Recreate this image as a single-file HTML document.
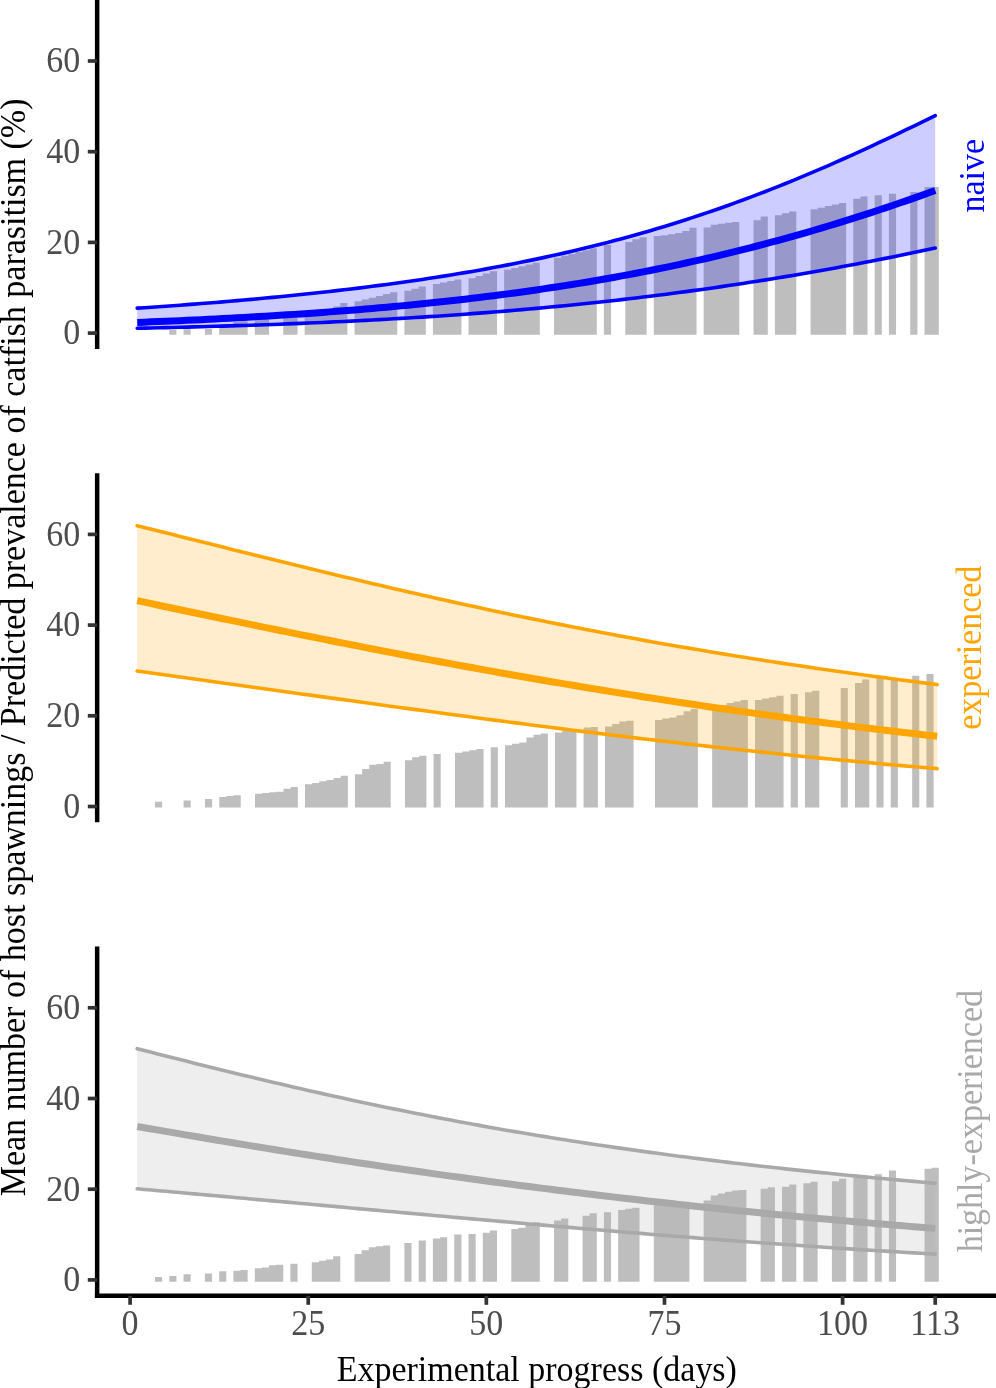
<!DOCTYPE html>
<html lang="en"><head><meta charset="utf-8"><title>Figure</title>
<style>html,body{margin:0;padding:0;background:#fff}svg{display:block;will-change:opacity;opacity:.999}</style></head>
<body>
<svg width="996" height="1388" viewBox="0 0 996 1388" font-family="'Liberation Serif',serif" font-size="34">
<path d="M169.29 334.80L169.29 330.05 L176.41 330.05L176.41 334.80ZM183.54 334.80L183.54 329.37 L190.66 329.37L190.66 334.80ZM204.91 334.80L204.91 328.92 L212.04 328.92L212.04 334.80ZM219.16 334.80L219.16 324.39 L226.29 324.39L226.29 323.93 L233.41 323.93L233.41 321.67 L240.54 321.67L240.54 321.21 L247.66 321.21L247.66 334.80ZM254.79 334.80L254.79 319.85 L261.91 319.85L261.91 319.40 L269.04 319.40L269.04 334.80ZM283.29 334.80L283.29 318.04 L290.41 318.04L290.41 317.13 L297.54 317.13L297.54 334.80ZM304.66 334.80L304.66 314.87 L311.79 314.87L311.79 313.21 L318.91 313.21L318.91 311.54 L326.04 311.54L326.04 309.88 L333.16 309.88L333.16 306.39 L340.29 306.39L340.29 303.08 L347.41 303.08L347.41 334.80ZM354.54 334.80L354.54 301.27 L361.66 301.27L361.66 299.47 L368.79 299.47L368.79 297.68 L375.91 297.68L375.91 295.88 L383.04 295.88L383.04 294.09 L390.16 294.09L390.16 292.29 L397.29 292.29L397.29 334.80ZM404.41 334.80L404.41 290.84 L411.54 290.84L411.54 288.67 L418.66 288.67L418.66 286.49 L425.79 286.49L425.79 334.80ZM432.91 334.80L432.91 284.04 L440.04 284.04L440.04 282.53 L447.16 282.53L447.16 281.02 L454.29 281.02L454.29 279.51 L461.41 279.51L461.41 334.80ZM468.54 334.80L468.54 278.15 L475.66 278.15L475.66 275.88 L482.79 275.88L482.79 273.62 L489.91 273.62L489.91 271.35 L497.04 271.35L497.04 334.80ZM504.16 334.80L504.16 269.72 L511.29 269.72L511.29 267.97 L518.41 267.97L518.41 266.23 L525.54 266.23L525.54 264.48 L532.66 264.48L532.66 262.74 L539.79 262.74L539.79 334.80ZM554.04 334.80L554.04 257.75 L561.16 257.75L561.16 255.85 L568.29 255.85L568.29 253.94 L575.41 253.94L575.41 252.04 L582.54 252.04L582.54 250.14 L589.66 250.14L589.66 248.23 L596.79 248.23L596.79 334.80ZM603.91 334.80L603.91 245.06 L611.04 245.06L611.04 334.80ZM625.29 334.80L625.29 241.89 L632.41 241.89L632.41 239.17 L639.54 239.17L639.54 237.13 L646.66 237.13L646.66 334.80ZM653.79 334.80L653.79 236.08 L660.91 236.08L660.91 235.31 L668.04 235.31L668.04 234.18 L675.16 234.18L675.16 233.05 L682.29 233.05L682.29 231.01 L689.41 231.01L689.41 227.83 L696.54 227.83L696.54 334.80ZM703.66 334.80L703.66 227.38 L710.79 227.38L710.79 224.66 L717.91 224.66L717.91 223.75 L725.04 223.75L725.04 222.85 L732.16 222.85L732.16 221.94 L739.29 221.94L739.29 334.80ZM753.54 334.80L753.54 220.13 L760.66 220.13L760.66 216.50 L767.79 216.50L767.79 334.80ZM774.91 334.80L774.91 215.14 L782.04 215.14L782.04 213.33 L789.16 213.33L789.16 211.52 L796.29 211.52L796.29 334.80ZM810.54 334.80L810.54 209.25 L817.66 209.25L817.66 207.66 L824.79 207.66L824.79 206.08 L831.91 206.08L831.91 204.49 L839.04 204.49L839.04 202.90 L846.16 202.90L846.16 334.80ZM853.29 334.80L853.29 198.82 L860.41 198.82L860.41 196.56 L867.54 196.56L867.54 334.80ZM874.66 334.80L874.66 195.20 L881.79 195.20L881.79 334.80ZM888.91 334.80L888.91 193.84 L896.04 193.84L896.04 334.80ZM910.29 334.80L910.29 192.02 L917.41 192.02L917.41 334.80ZM924.54 334.80L924.54 187.04 L931.66 187.04L931.66 187.04 L938.79 187.04L938.79 334.80Z" fill="#BEBEBE"/>
<polygon points="137.22,308.16 144.35,307.69 151.47,307.21 158.60,306.72 165.72,306.22 172.85,305.71 179.97,305.19 187.10,304.66 194.22,304.12 201.35,303.57 208.47,303.01 215.60,302.44 222.72,301.85 229.85,301.25 236.97,300.64 244.10,300.02 251.22,299.39 258.35,298.74 265.48,298.08 272.60,297.40 279.73,296.71 286.85,296.01 293.98,295.29 301.10,294.56 308.23,293.81 315.35,293.05 322.48,292.27 329.60,291.47 336.73,290.65 343.85,289.82 350.98,288.97 358.10,288.11 365.23,287.22 372.35,286.32 379.48,285.39 386.60,284.45 393.73,283.49 400.85,282.50 407.98,281.49 415.10,280.47 422.23,279.42 429.35,278.34 436.48,277.25 443.60,276.13 450.73,274.98 457.85,273.81 464.98,272.62 472.10,271.40 479.23,270.15 486.35,268.87 493.48,267.57 500.60,266.24 507.73,264.88 514.85,263.49 521.98,262.07 529.10,260.62 536.23,259.13 543.35,257.62 550.48,256.07 557.60,254.49 564.73,252.88 571.85,251.23 578.98,249.54 586.10,247.83 593.23,246.07 600.35,244.28 607.48,242.45 614.60,240.58 621.73,238.68 628.85,236.73 635.98,234.75 643.10,232.72 650.23,230.66 657.35,228.55 664.48,226.41 671.60,224.22 678.73,221.99 685.85,219.72 692.98,217.41 700.10,215.06 707.23,212.66 714.35,210.22 721.48,207.74 728.60,205.21 735.73,202.65 742.85,200.04 749.98,197.38 757.10,194.69 764.23,191.95 771.35,189.18 778.48,186.36 785.60,183.50 792.73,180.60 799.85,177.66 806.98,174.68 814.10,171.67 821.23,168.61 828.35,165.53 835.48,162.40 842.60,159.24 849.73,156.05 856.85,152.83 863.98,149.57 871.10,146.29 878.23,142.97 885.35,139.63 892.48,136.26 899.60,132.87 906.73,129.46 913.85,126.03 920.98,122.57 928.10,119.10 935.23,115.62 935.23,248.03 928.10,249.56 920.98,251.07 913.85,252.56 906.73,254.04 899.60,255.51 892.48,256.95 885.35,258.38 878.23,259.79 871.10,261.19 863.98,262.57 856.85,263.93 849.73,265.27 842.60,266.60 835.48,267.91 828.35,269.21 821.23,270.48 814.10,271.74 806.98,272.99 799.85,274.22 792.73,275.43 785.60,276.62 778.48,277.80 771.35,278.96 764.23,280.10 757.10,281.23 749.98,282.34 742.85,283.44 735.73,284.52 728.60,285.58 721.48,286.63 714.35,287.66 707.23,288.67 700.10,289.67 692.98,290.65 685.85,291.62 678.73,292.57 671.60,293.50 664.48,294.42 657.35,295.32 650.23,296.21 643.10,297.08 635.98,297.94 628.85,298.78 621.73,299.60 614.60,300.42 607.48,301.21 600.35,301.99 593.23,302.76 586.10,303.51 578.98,304.25 571.85,304.97 564.73,305.68 557.60,306.38 550.48,307.06 543.35,307.73 536.23,308.38 529.10,309.02 521.98,309.65 514.85,310.26 507.73,310.86 500.60,311.45 493.48,312.02 486.35,312.59 479.23,313.14 472.10,313.67 464.98,314.20 457.85,314.71 450.73,315.21 443.60,315.70 436.48,316.18 429.35,316.65 422.23,317.11 415.10,317.55 407.98,317.99 400.85,318.41 393.73,318.82 386.60,319.23 379.48,319.62 372.35,320.01 365.23,320.38 358.10,320.75 350.98,321.10 343.85,321.45 336.73,321.78 329.60,322.11 322.48,322.43 315.35,322.75 308.23,323.05 301.10,323.34 293.98,323.63 286.85,323.91 279.73,324.18 272.60,324.45 265.48,324.71 258.35,324.96 251.22,325.20 244.10,325.44 236.97,325.67 229.85,325.89 222.72,326.11 215.60,326.32 208.47,326.53 201.35,326.73 194.22,326.92 187.10,327.11 179.97,327.29 172.85,327.47 165.72,327.64 158.60,327.81 151.47,327.98 144.35,328.13 137.22,328.29" fill="#0000FF" fill-opacity="0.2"/>
<polyline points="137.22,308.16 144.35,307.69 151.47,307.21 158.60,306.72 165.72,306.22 172.85,305.71 179.97,305.19 187.10,304.66 194.22,304.12 201.35,303.57 208.47,303.01 215.60,302.44 222.72,301.85 229.85,301.25 236.97,300.64 244.10,300.02 251.22,299.39 258.35,298.74 265.48,298.08 272.60,297.40 279.73,296.71 286.85,296.01 293.98,295.29 301.10,294.56 308.23,293.81 315.35,293.05 322.48,292.27 329.60,291.47 336.73,290.65 343.85,289.82 350.98,288.97 358.10,288.11 365.23,287.22 372.35,286.32 379.48,285.39 386.60,284.45 393.73,283.49 400.85,282.50 407.98,281.49 415.10,280.47 422.23,279.42 429.35,278.34 436.48,277.25 443.60,276.13 450.73,274.98 457.85,273.81 464.98,272.62 472.10,271.40 479.23,270.15 486.35,268.87 493.48,267.57 500.60,266.24 507.73,264.88 514.85,263.49 521.98,262.07 529.10,260.62 536.23,259.13 543.35,257.62 550.48,256.07 557.60,254.49 564.73,252.88 571.85,251.23 578.98,249.54 586.10,247.83 593.23,246.07 600.35,244.28 607.48,242.45 614.60,240.58 621.73,238.68 628.85,236.73 635.98,234.75 643.10,232.72 650.23,230.66 657.35,228.55 664.48,226.41 671.60,224.22 678.73,221.99 685.85,219.72 692.98,217.41 700.10,215.06 707.23,212.66 714.35,210.22 721.48,207.74 728.60,205.21 735.73,202.65 742.85,200.04 749.98,197.38 757.10,194.69 764.23,191.95 771.35,189.18 778.48,186.36 785.60,183.50 792.73,180.60 799.85,177.66 806.98,174.68 814.10,171.67 821.23,168.61 828.35,165.53 835.48,162.40 842.60,159.24 849.73,156.05 856.85,152.83 863.98,149.57 871.10,146.29 878.23,142.97 885.35,139.63 892.48,136.26 899.60,132.87 906.73,129.46 913.85,126.03 920.98,122.57 928.10,119.10 935.23,115.62" fill="none" stroke="#0000FF" stroke-width="3.6" stroke-linecap="round" stroke-linejoin="round"/>
<polyline points="137.22,328.29 144.35,328.13 151.47,327.98 158.60,327.81 165.72,327.64 172.85,327.47 179.97,327.29 187.10,327.11 194.22,326.92 201.35,326.73 208.47,326.53 215.60,326.32 222.72,326.11 229.85,325.89 236.97,325.67 244.10,325.44 251.22,325.20 258.35,324.96 265.48,324.71 272.60,324.45 279.73,324.18 286.85,323.91 293.98,323.63 301.10,323.34 308.23,323.05 315.35,322.75 322.48,322.43 329.60,322.11 336.73,321.78 343.85,321.45 350.98,321.10 358.10,320.75 365.23,320.38 372.35,320.01 379.48,319.62 386.60,319.23 393.73,318.82 400.85,318.41 407.98,317.99 415.10,317.55 422.23,317.11 429.35,316.65 436.48,316.18 443.60,315.70 450.73,315.21 457.85,314.71 464.98,314.20 472.10,313.67 479.23,313.14 486.35,312.59 493.48,312.02 500.60,311.45 507.73,310.86 514.85,310.26 521.98,309.65 529.10,309.02 536.23,308.38 543.35,307.73 550.48,307.06 557.60,306.38 564.73,305.68 571.85,304.97 578.98,304.25 586.10,303.51 593.23,302.76 600.35,301.99 607.48,301.21 614.60,300.42 621.73,299.60 628.85,298.78 635.98,297.94 643.10,297.08 650.23,296.21 657.35,295.32 664.48,294.42 671.60,293.50 678.73,292.57 685.85,291.62 692.98,290.65 700.10,289.67 707.23,288.67 714.35,287.66 721.48,286.63 728.60,285.58 735.73,284.52 742.85,283.44 749.98,282.34 757.10,281.23 764.23,280.10 771.35,278.96 778.48,277.80 785.60,276.62 792.73,275.43 799.85,274.22 806.98,272.99 814.10,271.74 821.23,270.48 828.35,269.21 835.48,267.91 842.60,266.60 849.73,265.27 856.85,263.93 863.98,262.57 871.10,261.19 878.23,259.79 885.35,258.38 892.48,256.95 899.60,255.51 906.73,254.04 913.85,252.56 920.98,251.07 928.10,249.56 935.23,248.03" fill="none" stroke="#0000FF" stroke-width="3.6" stroke-linecap="round" stroke-linejoin="round"/>
<polyline points="137.22,322.41 144.35,322.13 151.47,321.85 158.60,321.55 165.72,321.25 172.85,320.95 179.97,320.63 187.10,320.31 194.22,319.98 201.35,319.64 208.47,319.29 215.60,318.94 222.72,318.57 229.85,318.20 236.97,317.81 244.10,317.42 251.22,317.02 258.35,316.60 265.48,316.18 272.60,315.75 279.73,315.30 286.85,314.85 293.98,314.38 301.10,313.90 308.23,313.42 315.35,312.91 322.48,312.40 329.60,311.88 336.73,311.34 343.85,310.79 350.98,310.22 358.10,309.64 365.23,309.05 372.35,308.45 379.48,307.83 386.60,307.19 393.73,306.54 400.85,305.88 407.98,305.20 415.10,304.50 422.23,303.79 429.35,303.06 436.48,302.31 443.60,301.55 450.73,300.77 457.85,299.97 464.98,299.16 472.10,298.32 479.23,297.47 486.35,296.59 493.48,295.70 500.60,294.79 507.73,293.86 514.85,292.91 521.98,291.93 529.10,290.94 536.23,289.92 543.35,288.88 550.48,287.82 557.60,286.74 564.73,285.63 571.85,284.51 578.98,283.35 586.10,282.18 593.23,280.98 600.35,279.75 607.48,278.50 614.60,277.23 621.73,275.93 628.85,274.60 635.98,273.25 643.10,271.87 650.23,270.46 657.35,269.03 664.48,267.57 671.60,266.08 678.73,264.57 685.85,263.02 692.98,261.45 700.10,259.85 707.23,258.22 714.35,256.56 721.48,254.88 728.60,253.16 735.73,251.41 742.85,249.64 749.98,247.83 757.10,246.00 764.23,244.13 771.35,242.24 778.48,240.31 785.60,238.36 792.73,236.37 799.85,234.36 806.98,232.31 814.10,230.24 821.23,228.13 828.35,225.99 835.48,223.83 842.60,221.63 849.73,219.41 856.85,217.16 863.98,214.87 871.10,212.56 878.23,210.22 885.35,207.85 892.48,205.45 899.60,203.03 906.73,200.58 913.85,198.10 920.98,195.59 928.10,193.06 935.23,190.50" fill="none" stroke="#0000FF" stroke-width="7" stroke-linecap="butt" stroke-linejoin="round"/>
<line x1="97.15" x2="97.15" y1="0.00" y2="348.97" stroke="#000" stroke-width="4.5"/>
<line x1="87.8" x2="97.15" y1="333.10" y2="333.10" stroke="#333" stroke-width="3.7"/>
<text transform="translate(80.3,344.40) scale(1,1.03)" text-anchor="end" fill="#4D4D4D">0</text>
<line x1="87.8" x2="97.15" y1="242.40" y2="242.40" stroke="#333" stroke-width="3.7"/>
<text transform="translate(80.3,253.70) scale(1,1.03)" text-anchor="end" fill="#4D4D4D">20</text>
<line x1="87.8" x2="97.15" y1="151.70" y2="151.70" stroke="#333" stroke-width="3.7"/>
<text transform="translate(80.3,163.00) scale(1,1.03)" text-anchor="end" fill="#4D4D4D">40</text>
<line x1="87.8" x2="97.15" y1="61.00" y2="61.00" stroke="#333" stroke-width="3.7"/>
<text transform="translate(80.3,72.30) scale(1,1.03)" text-anchor="end" fill="#4D4D4D">60</text>
<text transform="translate(984.30,175.68) rotate(-90) scale(1,1.045)" text-anchor="middle" fill="#0000FF">naive</text>
<path d="M155.00 807.60L155.00 801.73 L162.14 801.73L162.14 807.60ZM183.57 807.60L183.57 800.46 L190.72 800.46L190.72 807.60ZM205.00 807.60L205.00 798.96 L212.14 798.96L212.14 807.60ZM219.29 807.60L219.29 797.06 L226.43 797.06L226.43 795.97 L233.57 795.97L233.57 795.24 L240.72 795.24L240.72 807.60ZM255.00 807.60L255.00 793.70 L262.15 793.70L262.15 792.97 L269.29 792.97L269.29 792.20 L276.43 792.20L276.43 791.70 L283.57 791.70L283.57 788.66 L290.72 788.66L290.72 786.93 L297.86 786.93L297.86 807.60ZM305.00 807.60L305.00 784.16 L312.15 784.16L312.15 782.89 L319.29 782.89L319.29 781.17 L326.43 781.17L326.43 779.90 L333.58 779.90L333.58 777.90 L340.72 777.90L340.72 775.63 L347.86 775.63L347.86 807.60ZM355.00 807.60L355.00 774.13 L362.15 774.13L362.15 768.91 L369.29 768.91L369.29 764.82 L376.43 764.82L376.43 763.92 L383.58 763.92L383.58 761.65 L390.72 761.65L390.72 807.60ZM405.01 807.60L405.01 760.28 L412.15 760.28L412.15 757.29 L419.29 757.29L419.29 755.74 L426.43 755.74L426.43 807.60ZM433.58 807.60L433.58 753.93 L440.72 753.93L440.72 807.60ZM455.01 807.60L455.01 752.79 L462.15 752.79L462.15 751.52 L469.29 751.52L469.29 750.30 L476.44 750.30L476.44 748.93 L483.58 748.93L483.58 807.60ZM490.72 807.60L490.72 747.25 L497.86 747.25L497.86 807.60ZM505.01 807.60L505.01 745.30 L512.15 745.30L512.15 743.71 L519.29 743.71L519.29 742.58 L526.44 742.58L526.44 737.58 L533.58 737.58L533.58 734.86 L540.72 734.86L540.72 733.50 L547.87 733.50L547.87 807.60ZM555.01 807.60L555.01 732.59 L562.15 732.59L562.15 730.32 L569.29 730.32L569.29 728.96 L576.44 728.96L576.44 807.60ZM583.58 807.60L583.58 727.60 L590.72 727.60L590.72 726.91 L597.87 726.91L597.87 807.60ZM605.01 807.60L605.01 726.46 L612.15 726.46L612.15 723.96 L619.30 723.96L619.30 721.42 L626.44 721.42L626.44 720.79 L633.58 720.79L633.58 807.60ZM655.01 807.60L655.01 719.88 L662.15 719.88L662.15 718.52 L669.30 718.52L669.30 717.38 L676.44 717.38L676.44 715.34 L683.58 715.34L683.58 711.25 L690.73 711.25L690.73 708.98 L697.87 708.98L697.87 807.60ZM712.15 807.60L712.15 706.26 L719.30 706.26L719.30 704.90 L726.44 704.90L726.44 703.08 L733.58 703.08L733.58 701.49 L740.73 701.49L740.73 699.90 L747.87 699.90L747.87 807.60ZM755.01 807.60L755.01 699.90 L762.16 699.90L762.16 698.54 L769.30 698.54L769.30 697.18 L776.44 697.18L776.44 695.82 L783.58 695.82L783.58 807.60ZM790.73 807.60L790.73 694.00 L797.87 694.00L797.87 807.60ZM805.01 807.60L805.01 692.18 L812.16 692.18L812.16 690.82 L819.30 690.82L819.30 807.60ZM840.73 807.60L840.73 688.10 L847.87 688.10L847.87 807.60ZM855.01 807.60L855.01 683.10 L862.16 683.10L862.16 679.47 L869.30 679.47L869.30 807.60ZM876.44 807.60L876.44 678.11 L883.59 678.11L883.59 807.60ZM890.73 807.60L890.73 677.66 L897.87 677.66L897.87 807.60ZM912.16 807.60L912.16 675.84 L919.30 675.84L919.30 807.60ZM926.44 807.60L926.44 674.02 L933.59 674.02L933.59 807.60Z" fill="#BEBEBE"/>
<polygon points="137.14,525.66 144.29,527.45 151.43,529.23 158.57,531.02 165.72,532.80 172.86,534.59 180.00,536.38 187.14,538.17 194.29,539.96 201.43,541.75 208.57,543.53 215.72,545.32 222.86,547.10 230.00,548.89 237.14,550.67 244.29,552.45 251.43,554.22 258.57,555.99 265.72,557.76 272.86,559.53 280.00,561.29 287.15,563.05 294.29,564.80 301.43,566.54 308.57,568.29 315.72,570.02 322.86,571.75 330.00,573.48 337.15,575.19 344.29,576.91 351.43,578.61 358.58,580.31 365.72,582.00 372.86,583.68 380.00,585.35 387.15,587.02 394.29,588.68 401.43,590.33 408.58,591.97 415.72,593.60 422.86,595.22 430.01,596.84 437.15,598.44 444.29,600.04 451.44,601.62 458.58,603.19 465.72,604.76 472.86,606.31 480.01,607.86 487.15,609.39 494.29,610.92 501.44,612.43 508.58,613.93 515.72,615.42 522.87,616.90 530.01,618.37 537.15,619.83 544.29,621.28 551.44,622.72 558.58,624.14 565.72,625.56 572.87,626.96 580.01,628.35 587.15,629.73 594.29,631.10 601.44,632.46 608.58,633.81 615.72,635.14 622.87,636.47 630.01,637.78 637.15,639.08 644.30,640.37 651.44,641.65 658.58,642.92 665.73,644.18 672.87,645.43 680.01,646.66 687.15,647.89 694.30,649.10 701.44,650.31 708.58,651.50 715.73,652.68 722.87,653.85 730.01,655.01 737.15,656.16 744.30,657.30 751.44,658.44 758.58,659.56 765.73,660.67 772.87,661.77 780.01,662.86 787.16,663.94 794.30,665.01 801.44,666.07 808.59,667.12 815.73,668.16 822.87,669.20 830.01,670.22 837.16,671.23 844.30,672.24 851.44,673.24 858.59,674.22 865.73,675.20 872.87,676.17 880.01,677.13 887.16,678.09 894.30,679.03 901.44,679.97 908.59,680.89 915.73,681.81 922.87,682.73 930.02,683.63 937.16,684.53 937.16,768.61 930.02,768.02 922.87,767.42 915.73,766.82 908.59,766.21 901.44,765.59 894.30,764.97 887.16,764.34 880.01,763.70 872.87,763.05 865.73,762.40 858.59,761.74 851.44,761.08 844.30,760.40 837.16,759.73 830.01,759.04 822.87,758.35 815.73,757.65 808.59,756.94 801.44,756.23 794.30,755.51 787.16,754.78 780.01,754.05 772.87,753.31 765.73,752.56 758.58,751.81 751.44,751.05 744.30,750.29 737.15,749.52 730.01,748.74 722.87,747.96 715.73,747.17 708.58,746.37 701.44,745.57 694.30,744.76 687.15,743.95 680.01,743.13 672.87,742.30 665.73,741.47 658.58,740.63 651.44,739.79 644.30,738.95 637.15,738.09 630.01,737.24 622.87,736.37 615.72,735.51 608.58,734.63 601.44,733.76 594.29,732.88 587.15,731.99 580.01,731.10 572.87,730.20 565.72,729.30 558.58,728.40 551.44,727.49 544.29,726.58 537.15,725.67 530.01,724.75 522.87,723.82 515.72,722.90 508.58,721.97 501.44,721.03 494.29,720.10 487.15,719.16 480.01,718.21 472.86,717.27 465.72,716.32 458.58,715.37 451.44,714.41 444.29,713.46 437.15,712.50 430.01,711.54 422.86,710.57 415.72,709.61 408.58,708.64 401.43,707.67 394.29,706.69 387.15,705.72 380.00,704.74 372.86,703.77 365.72,702.79 358.58,701.81 351.43,700.82 344.29,699.84 337.15,698.86 330.00,697.87 322.86,696.88 315.72,695.89 308.57,694.90 301.43,693.91 294.29,692.92 287.15,691.93 280.00,690.94 272.86,689.94 265.72,688.95 258.57,687.95 251.43,686.96 244.29,685.96 237.14,684.97 230.00,683.97 222.86,682.97 215.72,681.97 208.57,680.97 201.43,679.98 194.29,678.98 187.14,677.98 180.00,676.98 172.86,675.98 165.72,674.98 158.57,673.98 151.43,672.98 144.29,671.98 137.14,670.98" fill="#FFA500" fill-opacity="0.2"/>
<polyline points="137.14,525.66 144.29,527.45 151.43,529.23 158.57,531.02 165.72,532.80 172.86,534.59 180.00,536.38 187.14,538.17 194.29,539.96 201.43,541.75 208.57,543.53 215.72,545.32 222.86,547.10 230.00,548.89 237.14,550.67 244.29,552.45 251.43,554.22 258.57,555.99 265.72,557.76 272.86,559.53 280.00,561.29 287.15,563.05 294.29,564.80 301.43,566.54 308.57,568.29 315.72,570.02 322.86,571.75 330.00,573.48 337.15,575.19 344.29,576.91 351.43,578.61 358.58,580.31 365.72,582.00 372.86,583.68 380.00,585.35 387.15,587.02 394.29,588.68 401.43,590.33 408.58,591.97 415.72,593.60 422.86,595.22 430.01,596.84 437.15,598.44 444.29,600.04 451.44,601.62 458.58,603.19 465.72,604.76 472.86,606.31 480.01,607.86 487.15,609.39 494.29,610.92 501.44,612.43 508.58,613.93 515.72,615.42 522.87,616.90 530.01,618.37 537.15,619.83 544.29,621.28 551.44,622.72 558.58,624.14 565.72,625.56 572.87,626.96 580.01,628.35 587.15,629.73 594.29,631.10 601.44,632.46 608.58,633.81 615.72,635.14 622.87,636.47 630.01,637.78 637.15,639.08 644.30,640.37 651.44,641.65 658.58,642.92 665.73,644.18 672.87,645.43 680.01,646.66 687.15,647.89 694.30,649.10 701.44,650.31 708.58,651.50 715.73,652.68 722.87,653.85 730.01,655.01 737.15,656.16 744.30,657.30 751.44,658.44 758.58,659.56 765.73,660.67 772.87,661.77 780.01,662.86 787.16,663.94 794.30,665.01 801.44,666.07 808.59,667.12 815.73,668.16 822.87,669.20 830.01,670.22 837.16,671.23 844.30,672.24 851.44,673.24 858.59,674.22 865.73,675.20 872.87,676.17 880.01,677.13 887.16,678.09 894.30,679.03 901.44,679.97 908.59,680.89 915.73,681.81 922.87,682.73 930.02,683.63 937.16,684.53" fill="none" stroke="#FFA500" stroke-width="3.6" stroke-linecap="round" stroke-linejoin="round"/>
<polyline points="137.14,670.98 144.29,671.98 151.43,672.98 158.57,673.98 165.72,674.98 172.86,675.98 180.00,676.98 187.14,677.98 194.29,678.98 201.43,679.98 208.57,680.97 215.72,681.97 222.86,682.97 230.00,683.97 237.14,684.97 244.29,685.96 251.43,686.96 258.57,687.95 265.72,688.95 272.86,689.94 280.00,690.94 287.15,691.93 294.29,692.92 301.43,693.91 308.57,694.90 315.72,695.89 322.86,696.88 330.00,697.87 337.15,698.86 344.29,699.84 351.43,700.82 358.58,701.81 365.72,702.79 372.86,703.77 380.00,704.74 387.15,705.72 394.29,706.69 401.43,707.67 408.58,708.64 415.72,709.61 422.86,710.57 430.01,711.54 437.15,712.50 444.29,713.46 451.44,714.41 458.58,715.37 465.72,716.32 472.86,717.27 480.01,718.21 487.15,719.16 494.29,720.10 501.44,721.03 508.58,721.97 515.72,722.90 522.87,723.82 530.01,724.75 537.15,725.67 544.29,726.58 551.44,727.49 558.58,728.40 565.72,729.30 572.87,730.20 580.01,731.10 587.15,731.99 594.29,732.88 601.44,733.76 608.58,734.63 615.72,735.51 622.87,736.37 630.01,737.24 637.15,738.09 644.30,738.95 651.44,739.79 658.58,740.63 665.73,741.47 672.87,742.30 680.01,743.13 687.15,743.95 694.30,744.76 701.44,745.57 708.58,746.37 715.73,747.17 722.87,747.96 730.01,748.74 737.15,749.52 744.30,750.29 751.44,751.05 758.58,751.81 765.73,752.56 772.87,753.31 780.01,754.05 787.16,754.78 794.30,755.51 801.44,756.23 808.59,756.94 815.73,757.65 822.87,758.35 830.01,759.04 837.16,759.73 844.30,760.40 851.44,761.08 858.59,761.74 865.73,762.40 872.87,763.05 880.01,763.70 887.16,764.34 894.30,764.97 901.44,765.59 908.59,766.21 915.73,766.82 922.87,767.42 930.02,768.02 937.16,768.61" fill="none" stroke="#FFA500" stroke-width="3.6" stroke-linecap="round" stroke-linejoin="round"/>
<polyline points="137.14,600.67 144.29,602.19 151.43,603.70 158.57,605.21 165.72,606.73 172.86,608.23 180.00,609.74 187.14,611.24 194.29,612.74 201.43,614.24 208.57,615.73 215.72,617.22 222.86,618.71 230.00,620.19 237.14,621.67 244.29,623.15 251.43,624.62 258.57,626.09 265.72,627.56 272.86,629.02 280.00,630.47 287.15,631.93 294.29,633.37 301.43,634.82 308.57,636.26 315.72,637.69 322.86,639.12 330.00,640.54 337.15,641.96 344.29,643.37 351.43,644.78 358.58,646.18 365.72,647.58 372.86,648.97 380.00,650.35 387.15,651.73 394.29,653.11 401.43,654.47 408.58,655.84 415.72,657.19 422.86,658.54 430.01,659.88 437.15,661.22 444.29,662.55 451.44,663.87 458.58,665.19 465.72,666.50 472.86,667.80 480.01,669.10 487.15,670.39 494.29,671.67 501.44,672.95 508.58,674.22 515.72,675.48 522.87,676.73 530.01,677.98 537.15,679.22 544.29,680.45 551.44,681.68 558.58,682.90 565.72,684.11 572.87,685.31 580.01,686.50 587.15,687.69 594.29,688.87 601.44,690.04 608.58,691.21 615.72,692.37 622.87,693.52 630.01,694.66 637.15,695.79 644.30,696.92 651.44,698.04 658.58,699.15 665.73,700.25 672.87,701.34 680.01,702.43 687.15,703.51 694.30,704.58 701.44,705.64 708.58,706.70 715.73,707.74 722.87,708.78 730.01,709.81 737.15,710.84 744.30,711.85 751.44,712.86 758.58,713.86 765.73,714.85 772.87,715.83 780.01,716.81 787.16,717.78 794.30,718.74 801.44,719.69 808.59,720.63 815.73,721.57 822.87,722.50 830.01,723.42 837.16,724.33 844.30,725.23 851.44,726.13 858.59,727.02 865.73,727.90 872.87,728.77 880.01,729.64 887.16,730.50 894.30,731.35 901.44,732.19 908.59,733.03 915.73,733.85 922.87,734.67 930.02,735.49 937.16,736.29" fill="none" stroke="#FFA500" stroke-width="7" stroke-linecap="butt" stroke-linejoin="round"/>
<line x1="97.15" x2="97.15" y1="473.18" y2="822.37" stroke="#000" stroke-width="4.5"/>
<line x1="87.8" x2="97.15" y1="806.50" y2="806.50" stroke="#333" stroke-width="3.7"/>
<text transform="translate(80.3,817.80) scale(1,1.03)" text-anchor="end" fill="#4D4D4D">0</text>
<line x1="87.8" x2="97.15" y1="715.80" y2="715.80" stroke="#333" stroke-width="3.7"/>
<text transform="translate(80.3,727.10) scale(1,1.03)" text-anchor="end" fill="#4D4D4D">20</text>
<line x1="87.8" x2="97.15" y1="625.10" y2="625.10" stroke="#333" stroke-width="3.7"/>
<text transform="translate(80.3,636.40) scale(1,1.03)" text-anchor="end" fill="#4D4D4D">40</text>
<line x1="87.8" x2="97.15" y1="534.40" y2="534.40" stroke="#333" stroke-width="3.7"/>
<text transform="translate(80.3,545.70) scale(1,1.03)" text-anchor="end" fill="#4D4D4D">60</text>
<text transform="translate(981.20,647.77) rotate(-90) scale(1,1.045)" text-anchor="middle" fill="#FFA500">experienced</text>
<path d="M155.04 1281.70L155.04 1276.93 L162.16 1276.93L162.16 1281.70ZM169.29 1281.70L169.29 1275.93 L176.41 1275.93L176.41 1281.70ZM183.54 1281.70L183.54 1274.16 L190.66 1274.16L190.66 1281.70ZM204.91 1281.70L204.91 1273.44 L212.04 1273.44L212.04 1281.70ZM219.16 1281.70L219.16 1271.26 L226.29 1271.26L226.29 1281.70ZM233.41 1281.70L233.41 1270.67 L240.54 1270.67L240.54 1269.90 L247.66 1269.90L247.66 1281.70ZM254.79 1281.70L254.79 1268.13 L261.91 1268.13L261.91 1267.40 L269.04 1267.40L269.04 1265.36 L276.16 1265.36L276.16 1264.63 L283.29 1264.63L283.29 1281.70ZM290.41 1281.70L290.41 1263.86 L297.54 1263.86L297.54 1281.70ZM311.79 1281.70L311.79 1262.18 L318.91 1262.18L318.91 1260.63 L326.04 1260.63L326.04 1259.45 L333.16 1259.45L333.16 1256.28 L340.29 1256.28L340.29 1281.70ZM354.54 1281.70L354.54 1254.01 L361.66 1254.01L361.66 1250.37 L368.79 1250.37L368.79 1247.20 L375.91 1247.20L375.91 1246.29 L383.04 1246.29L383.04 1245.38 L390.16 1245.38L390.16 1281.70ZM404.41 1281.70L404.41 1243.11 L411.54 1243.11L411.54 1281.70ZM418.66 1281.70L418.66 1240.52 L425.79 1240.52L425.79 1281.70ZM432.91 1281.70L432.91 1238.57 L440.04 1238.57L440.04 1237.21 L447.16 1237.21L447.16 1281.70ZM454.29 1281.70L454.29 1234.48 L461.41 1234.48L461.41 1281.70ZM468.54 1281.70L468.54 1234.03 L475.66 1234.03L475.66 1281.70ZM482.79 1281.70L482.79 1232.67 L489.91 1232.67L489.91 1230.40 L497.04 1230.40L497.04 1281.70ZM511.29 1281.70L511.29 1229.04 L518.41 1229.04L518.41 1227.67 L525.54 1227.67L525.54 1224.04 L532.66 1224.04L532.66 1222.23 L539.79 1222.23L539.79 1281.70ZM554.04 1281.70L554.04 1220.41 L561.16 1220.41L561.16 1218.59 L568.29 1218.59L568.29 1281.70ZM582.54 1281.70L582.54 1215.87 L589.66 1215.87L589.66 1213.15 L596.79 1213.15L596.79 1281.70ZM603.91 1281.70L603.91 1212.24 L611.04 1212.24L611.04 1281.70ZM618.16 1281.70L618.16 1209.97 L625.29 1209.97L625.29 1208.83 L632.41 1208.83L632.41 1207.70 L639.54 1207.70L639.54 1281.70ZM653.79 1281.70L653.79 1204.97 L660.91 1204.97L660.91 1204.52 L668.04 1204.52L668.04 1203.61 L675.16 1203.61L675.16 1202.70 L682.29 1202.70L682.29 1201.80 L689.41 1201.80L689.41 1281.70ZM703.66 1281.70L703.66 1200.43 L710.79 1200.43L710.79 1195.44 L717.91 1195.44L717.91 1193.62 L725.04 1193.62L725.04 1191.81 L732.16 1191.81L732.16 1190.45 L739.29 1190.45L739.29 1189.99 L746.41 1189.99L746.41 1281.70ZM760.66 1281.70L760.66 1188.63 L767.79 1188.63L767.79 1187.27 L774.91 1187.27L774.91 1281.70ZM782.04 1281.70L782.04 1186.81 L789.16 1186.81L789.16 1184.54 L796.29 1184.54L796.29 1281.70ZM803.41 1281.70L803.41 1183.18 L810.54 1183.18L810.54 1181.82 L817.66 1181.82L817.66 1281.70ZM831.91 1281.70L831.91 1181.37 L839.04 1181.37L839.04 1178.64 L846.16 1178.64L846.16 1281.70ZM853.29 1281.70L853.29 1177.96 L860.41 1177.96L860.41 1175.46 L867.54 1175.46L867.54 1281.70ZM874.66 1281.70L874.66 1174.33 L881.79 1174.33L881.79 1281.70ZM888.91 1281.70L888.91 1170.47 L896.04 1170.47L896.04 1281.70ZM924.54 1281.70L924.54 1168.65 L931.66 1168.65L931.66 1167.75 L938.79 1167.75L938.79 1281.70Z" fill="#BEBEBE"/>
<polygon points="137.22,1048.67 144.35,1050.51 151.47,1052.33 158.60,1054.16 165.72,1055.97 172.85,1057.78 179.97,1059.58 187.10,1061.37 194.22,1063.16 201.35,1064.94 208.47,1066.70 215.60,1068.47 222.72,1070.22 229.85,1071.96 236.97,1073.69 244.10,1075.41 251.22,1077.12 258.35,1078.83 265.48,1080.52 272.60,1082.20 279.73,1083.86 286.85,1085.52 293.98,1087.17 301.10,1088.80 308.23,1090.42 315.35,1092.03 322.48,1093.63 329.60,1095.21 336.73,1096.79 343.85,1098.34 350.98,1099.89 358.10,1101.42 365.23,1102.94 372.35,1104.45 379.48,1105.94 386.60,1107.42 393.73,1108.88 400.85,1110.33 407.98,1111.77 415.10,1113.19 422.23,1114.60 429.35,1116.00 436.48,1117.38 443.60,1118.75 450.73,1120.10 457.85,1121.44 464.98,1122.76 472.10,1124.07 479.23,1125.37 486.35,1126.65 493.48,1127.92 500.60,1129.17 507.73,1130.41 514.85,1131.63 521.98,1132.85 529.10,1134.04 536.23,1135.23 543.35,1136.40 550.48,1137.55 557.60,1138.70 564.73,1139.83 571.85,1140.94 578.98,1142.05 586.10,1143.13 593.23,1144.21 600.35,1145.27 607.48,1146.33 614.60,1147.36 621.73,1148.39 628.85,1149.40 635.98,1150.40 643.10,1151.39 650.23,1152.37 657.35,1153.33 664.48,1154.29 671.60,1155.23 678.73,1156.16 685.85,1157.08 692.98,1157.99 700.10,1158.88 707.23,1159.77 714.35,1160.64 721.48,1161.51 728.60,1162.36 735.73,1163.21 742.85,1164.04 749.98,1164.86 757.10,1165.68 764.23,1166.48 771.35,1167.28 778.48,1168.06 785.60,1168.84 792.73,1169.61 799.85,1170.37 806.98,1171.12 814.10,1171.86 821.23,1172.59 828.35,1173.32 835.48,1174.03 842.60,1174.74 849.73,1175.44 856.85,1176.13 863.98,1176.82 871.10,1177.50 878.23,1178.17 885.35,1178.83 892.48,1179.48 899.60,1180.13 906.73,1180.77 913.85,1181.41 920.98,1182.04 928.10,1182.66 935.23,1183.27 935.23,1254.12 928.10,1253.71 920.98,1253.30 913.85,1252.88 906.73,1252.46 899.60,1252.04 892.48,1251.60 885.35,1251.17 878.23,1250.73 871.10,1250.28 863.98,1249.83 856.85,1249.38 849.73,1248.92 842.60,1248.45 835.48,1247.98 828.35,1247.51 821.23,1247.03 814.10,1246.54 806.98,1246.05 799.85,1245.56 792.73,1245.06 785.60,1244.56 778.48,1244.05 771.35,1243.54 764.23,1243.03 757.10,1242.51 749.98,1241.98 742.85,1241.45 735.73,1240.92 728.60,1240.38 721.48,1239.84 714.35,1239.29 707.23,1238.74 700.10,1238.19 692.98,1237.63 685.85,1237.07 678.73,1236.50 671.60,1235.94 664.48,1235.36 657.35,1234.79 650.23,1234.21 643.10,1233.62 635.98,1233.04 628.85,1232.45 621.73,1231.86 614.60,1231.26 607.48,1230.66 600.35,1230.06 593.23,1229.46 586.10,1228.85 578.98,1228.24 571.85,1227.63 564.73,1227.02 557.60,1226.40 550.48,1225.78 543.35,1225.16 536.23,1224.54 529.10,1223.92 521.98,1223.29 514.85,1222.66 507.73,1222.03 500.60,1221.40 493.48,1220.77 486.35,1220.13 479.23,1219.50 472.10,1218.86 464.98,1218.23 457.85,1217.59 450.73,1216.95 443.60,1216.31 436.48,1215.67 429.35,1215.03 422.23,1214.38 415.10,1213.74 407.98,1213.10 400.85,1212.45 393.73,1211.81 386.60,1211.17 379.48,1210.52 372.35,1209.88 365.23,1209.23 358.10,1208.59 350.98,1207.94 343.85,1207.30 336.73,1206.65 329.60,1206.01 322.48,1205.37 315.35,1204.72 308.23,1204.08 301.10,1203.44 293.98,1202.79 286.85,1202.15 279.73,1201.51 272.60,1200.87 265.48,1200.23 258.35,1199.59 251.22,1198.95 244.10,1198.31 236.97,1197.67 229.85,1197.03 222.72,1196.39 215.60,1195.76 208.47,1195.12 201.35,1194.48 194.22,1193.85 187.10,1193.21 179.97,1192.58 172.85,1191.95 165.72,1191.32 158.60,1190.68 151.47,1190.05 144.35,1189.42 137.22,1188.79" fill="#A9A9A9" fill-opacity="0.2"/>
<polyline points="137.22,1048.67 144.35,1050.51 151.47,1052.33 158.60,1054.16 165.72,1055.97 172.85,1057.78 179.97,1059.58 187.10,1061.37 194.22,1063.16 201.35,1064.94 208.47,1066.70 215.60,1068.47 222.72,1070.22 229.85,1071.96 236.97,1073.69 244.10,1075.41 251.22,1077.12 258.35,1078.83 265.48,1080.52 272.60,1082.20 279.73,1083.86 286.85,1085.52 293.98,1087.17 301.10,1088.80 308.23,1090.42 315.35,1092.03 322.48,1093.63 329.60,1095.21 336.73,1096.79 343.85,1098.34 350.98,1099.89 358.10,1101.42 365.23,1102.94 372.35,1104.45 379.48,1105.94 386.60,1107.42 393.73,1108.88 400.85,1110.33 407.98,1111.77 415.10,1113.19 422.23,1114.60 429.35,1116.00 436.48,1117.38 443.60,1118.75 450.73,1120.10 457.85,1121.44 464.98,1122.76 472.10,1124.07 479.23,1125.37 486.35,1126.65 493.48,1127.92 500.60,1129.17 507.73,1130.41 514.85,1131.63 521.98,1132.85 529.10,1134.04 536.23,1135.23 543.35,1136.40 550.48,1137.55 557.60,1138.70 564.73,1139.83 571.85,1140.94 578.98,1142.05 586.10,1143.13 593.23,1144.21 600.35,1145.27 607.48,1146.33 614.60,1147.36 621.73,1148.39 628.85,1149.40 635.98,1150.40 643.10,1151.39 650.23,1152.37 657.35,1153.33 664.48,1154.29 671.60,1155.23 678.73,1156.16 685.85,1157.08 692.98,1157.99 700.10,1158.88 707.23,1159.77 714.35,1160.64 721.48,1161.51 728.60,1162.36 735.73,1163.21 742.85,1164.04 749.98,1164.86 757.10,1165.68 764.23,1166.48 771.35,1167.28 778.48,1168.06 785.60,1168.84 792.73,1169.61 799.85,1170.37 806.98,1171.12 814.10,1171.86 821.23,1172.59 828.35,1173.32 835.48,1174.03 842.60,1174.74 849.73,1175.44 856.85,1176.13 863.98,1176.82 871.10,1177.50 878.23,1178.17 885.35,1178.83 892.48,1179.48 899.60,1180.13 906.73,1180.77 913.85,1181.41 920.98,1182.04 928.10,1182.66 935.23,1183.27" fill="none" stroke="#A9A9A9" stroke-width="3.6" stroke-linecap="round" stroke-linejoin="round"/>
<polyline points="137.22,1188.79 144.35,1189.42 151.47,1190.05 158.60,1190.68 165.72,1191.32 172.85,1191.95 179.97,1192.58 187.10,1193.21 194.22,1193.85 201.35,1194.48 208.47,1195.12 215.60,1195.76 222.72,1196.39 229.85,1197.03 236.97,1197.67 244.10,1198.31 251.22,1198.95 258.35,1199.59 265.48,1200.23 272.60,1200.87 279.73,1201.51 286.85,1202.15 293.98,1202.79 301.10,1203.44 308.23,1204.08 315.35,1204.72 322.48,1205.37 329.60,1206.01 336.73,1206.65 343.85,1207.30 350.98,1207.94 358.10,1208.59 365.23,1209.23 372.35,1209.88 379.48,1210.52 386.60,1211.17 393.73,1211.81 400.85,1212.45 407.98,1213.10 415.10,1213.74 422.23,1214.38 429.35,1215.03 436.48,1215.67 443.60,1216.31 450.73,1216.95 457.85,1217.59 464.98,1218.23 472.10,1218.86 479.23,1219.50 486.35,1220.13 493.48,1220.77 500.60,1221.40 507.73,1222.03 514.85,1222.66 521.98,1223.29 529.10,1223.92 536.23,1224.54 543.35,1225.16 550.48,1225.78 557.60,1226.40 564.73,1227.02 571.85,1227.63 578.98,1228.24 586.10,1228.85 593.23,1229.46 600.35,1230.06 607.48,1230.66 614.60,1231.26 621.73,1231.86 628.85,1232.45 635.98,1233.04 643.10,1233.62 650.23,1234.21 657.35,1234.79 664.48,1235.36 671.60,1235.94 678.73,1236.50 685.85,1237.07 692.98,1237.63 700.10,1238.19 707.23,1238.74 714.35,1239.29 721.48,1239.84 728.60,1240.38 735.73,1240.92 742.85,1241.45 749.98,1241.98 757.10,1242.51 764.23,1243.03 771.35,1243.54 778.48,1244.05 785.60,1244.56 792.73,1245.06 799.85,1245.56 806.98,1246.05 814.10,1246.54 821.23,1247.03 828.35,1247.51 835.48,1247.98 842.60,1248.45 849.73,1248.92 856.85,1249.38 863.98,1249.83 871.10,1250.28 878.23,1250.73 885.35,1251.17 892.48,1251.60 899.60,1252.04 906.73,1252.46 913.85,1252.88 920.98,1253.30 928.10,1253.71 935.23,1254.12" fill="none" stroke="#A9A9A9" stroke-width="3.6" stroke-linecap="round" stroke-linejoin="round"/>
<polyline points="137.22,1126.43 144.35,1127.68 151.47,1128.93 158.60,1130.17 165.72,1131.41 172.85,1132.64 179.97,1133.87 187.10,1135.09 194.22,1136.31 201.35,1137.52 208.47,1138.73 215.60,1139.93 222.72,1141.12 229.85,1142.31 236.97,1143.49 244.10,1144.67 251.22,1145.84 258.35,1147.00 265.48,1148.16 272.60,1149.32 279.73,1150.46 286.85,1151.60 293.98,1152.74 301.10,1153.87 308.23,1154.99 315.35,1156.11 322.48,1157.22 329.60,1158.32 336.73,1159.42 343.85,1160.51 350.98,1161.59 358.10,1162.67 365.23,1163.74 372.35,1164.81 379.48,1165.87 386.60,1166.92 393.73,1167.97 400.85,1169.01 407.98,1170.04 415.10,1171.06 422.23,1172.08 429.35,1173.10 436.48,1174.10 443.60,1175.10 450.73,1176.10 457.85,1177.08 464.98,1178.06 472.10,1179.04 479.23,1180.00 486.35,1180.96 493.48,1181.92 500.60,1182.86 507.73,1183.80 514.85,1184.74 521.98,1185.66 529.10,1186.58 536.23,1187.50 543.35,1188.40 550.48,1189.30 557.60,1190.20 564.73,1191.08 571.85,1191.96 578.98,1192.84 586.10,1193.70 593.23,1194.56 600.35,1195.42 607.48,1196.27 614.60,1197.11 621.73,1197.94 628.85,1198.77 635.98,1199.59 643.10,1200.40 650.23,1201.21 657.35,1202.01 664.48,1202.81 671.60,1203.59 678.73,1204.38 685.85,1205.15 692.98,1205.92 700.10,1206.68 707.23,1207.44 714.35,1208.19 721.48,1208.93 728.60,1209.67 735.73,1210.40 742.85,1211.12 749.98,1211.84 757.10,1212.56 764.23,1213.26 771.35,1213.96 778.48,1214.66 785.60,1215.34 792.73,1216.03 799.85,1216.70 806.98,1217.37 814.10,1218.03 821.23,1218.69 828.35,1219.34 835.48,1219.99 842.60,1220.63 849.73,1221.26 856.85,1221.89 863.98,1222.52 871.10,1223.13 878.23,1223.74 885.35,1224.35 892.48,1224.95 899.60,1225.54 906.73,1226.13 913.85,1226.72 920.98,1227.30 928.10,1227.87 935.23,1228.43" fill="none" stroke="#A9A9A9" stroke-width="7" stroke-linecap="butt" stroke-linejoin="round"/>
<line x1="97.15" x2="97.15" y1="946.58" y2="1298.10" stroke="#000" stroke-width="4.5"/>
<line x1="87.8" x2="97.15" y1="1279.90" y2="1279.90" stroke="#333" stroke-width="3.7"/>
<text transform="translate(80.3,1291.20) scale(1,1.03)" text-anchor="end" fill="#4D4D4D">0</text>
<line x1="87.8" x2="97.15" y1="1189.20" y2="1189.20" stroke="#333" stroke-width="3.7"/>
<text transform="translate(80.3,1200.50) scale(1,1.03)" text-anchor="end" fill="#4D4D4D">20</text>
<line x1="87.8" x2="97.15" y1="1098.50" y2="1098.50" stroke="#333" stroke-width="3.7"/>
<text transform="translate(80.3,1109.80) scale(1,1.03)" text-anchor="end" fill="#4D4D4D">40</text>
<line x1="87.8" x2="97.15" y1="1007.80" y2="1007.80" stroke="#333" stroke-width="3.7"/>
<text transform="translate(80.3,1019.10) scale(1,1.03)" text-anchor="end" fill="#4D4D4D">60</text>
<text transform="translate(981.50,1121.17) rotate(-90) scale(1,1.045)" text-anchor="middle" fill="#A9A9A9">highly-experienced</text>
<line x1="94.9" x2="996" y1="1295.85" y2="1295.85" stroke="#000" stroke-width="4.5"/>
<line x1="130.10" x2="130.10" y1="1295.85" y2="1304.8" stroke="#333" stroke-width="3.7"/>
<text transform="translate(130.10,1334.9) scale(1,1.03)" text-anchor="middle" fill="#4D4D4D">0</text>
<line x1="308.23" x2="308.23" y1="1295.85" y2="1304.8" stroke="#333" stroke-width="3.7"/>
<text transform="translate(308.23,1334.9) scale(1,1.03)" text-anchor="middle" fill="#4D4D4D">25</text>
<line x1="486.35" x2="486.35" y1="1295.85" y2="1304.8" stroke="#333" stroke-width="3.7"/>
<text transform="translate(486.35,1334.9) scale(1,1.03)" text-anchor="middle" fill="#4D4D4D">50</text>
<line x1="664.48" x2="664.48" y1="1295.85" y2="1304.8" stroke="#333" stroke-width="3.7"/>
<text transform="translate(664.48,1334.9) scale(1,1.03)" text-anchor="middle" fill="#4D4D4D">75</text>
<line x1="842.60" x2="842.60" y1="1295.85" y2="1304.8" stroke="#333" stroke-width="3.7"/>
<text transform="translate(842.60,1334.9) scale(1,1.03)" text-anchor="middle" fill="#4D4D4D">100</text>
<line x1="935.23" x2="935.23" y1="1295.85" y2="1304.8" stroke="#333" stroke-width="3.7"/>
<text transform="translate(935.23,1334.9) scale(1,1.03)" text-anchor="middle" fill="#4D4D4D">113</text>
<text transform="translate(536.8,1381) scale(1,1.045)" text-anchor="middle" fill="#000">Experimental progress (days)</text>
<text transform="translate(24.7,647.4) rotate(-90) scale(1,1.045)" text-anchor="middle" fill="#000">Mean number of host spawnings / Predicted prevalence of catfish parasitism (%)</text>
</svg>
</body></html>
